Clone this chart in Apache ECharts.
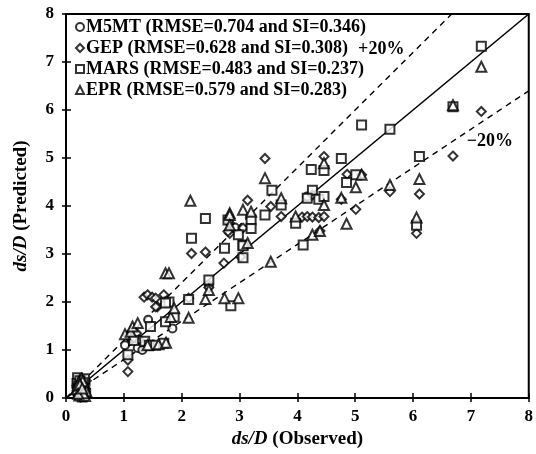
<!DOCTYPE html>
<html>
<head>
<meta charset="utf-8">
<script src="https://cdn.jsdelivr.net/npm/echarts@6/dist/echarts.min.js"></script>
<style>
  html, body { margin: 0; padding: 0; background: #fff; }
  #chart { width: 536px; height: 454px; }
</style>
</head>
<body>
<div id="chart"></div>
<script>
// Axis range and tick labels (same for both axes)
const axisMin = 0;
const axisMax = 8;
const axisStep = 1;

// Legend captions
const nameM5MT = 'M5MT (RMSE=0.704 and SI=0.346)';
const nameGEP = 'GEP (RMSE=0.628 and SI=0.308)';
const nameMARS = 'MARS (RMSE=0.483 and SI=0.237)';
const nameEPR = 'EPR (RMSE=0.579 and SI=0.283)';

// [observed, predicted] pairs for each model
const m5mt = [
  [0.2,0.12],[0.22,0.3],[0.25,0.2],[0.28,0.08],[0.3,0.35],[0.18,0.25],[0.32,0.15],[0.26,0.4],[0.2,0.05],[0.34,0.28],
  [0.23,0.17],[0.27,0.26],[0.31,0.06],[0.24,0.33],
  [1.12,1.25],[1.26,1.22],[1.24,1.04],[1.32,1.0],[1.42,1.63],[1.84,1.45],[1.02,1.1],[2.47,2.35],[4.17,4.2],[2.92,3.55]
];
const gep = [
  [0.18,0.1],[0.24,0.22],[0.27,0.32],[0.3,0.05],[0.21,0.38],[0.33,0.2],[0.22,0.15],[0.29,0.27],[0.25,0.02],[0.35,0.36],
  [0.2,0.3],[0.28,0.13],[0.32,0.31],[0.23,0.07],
  [1.07,1.3],[1.17,1.25],[1.22,1.35],[1.07,0.79],[1.07,0.55],
  [1.35,2.1],[1.41,2.15],[1.49,2.1],[1.58,1.9],[1.69,2.15],[1.55,2.08],[1.55,1.9],
  [2.17,3.01],[2.41,3.04],[2.73,2.81],[2.12,2.08],[2.47,2.3],[3.02,2.94],
  [3.44,4.99],[3.14,4.12],[3.54,3.99],[3.72,3.78],[4.46,5.03],[4.26,4.23],
  [4.08,3.77],[4.17,3.78],[4.26,3.77],[4.37,3.76],[4.46,3.78],[4.39,3.48],
  [3.06,3.54],[2.83,3.43],[2.80,3.47],[2.83,3.64],[4.86,4.66],[5.11,4.65],[5.60,4.3],[5.01,3.93],[4.76,4.14],
  [6.11,4.25],[6.06,3.43],[7.18,5.97],[6.69,5.04]
];
const mars = [
  [0.2,0.42],[0.23,0.1],[0.26,0.28],[0.3,0.18],[0.19,0.3],[0.32,0.4],[0.28,0.02],[0.24,0.36],[0.34,0.1],[0.21,0.2],
  [0.25,0.14],[0.29,0.32],[0.22,0.25],[0.31,0.08],
  [1.17,1.2],[1.36,1.18],[1.07,0.9],[1.44,1.1],[1.55,1.1],[1.69,1.14],[1.46,1.49],[1.72,1.59],[1.87,1.69],[1.78,2.0],[1.72,1.98],
  [2.17,3.33],[2.41,3.74],[2.74,3.12],[2.80,3.71],[2.47,2.46],[2.12,2.05],[2.85,1.92],[3.06,3.19],[3.06,2.92],
  [3.56,4.33],[3.20,3.71],[3.20,3.53],[3.44,3.81],[3.72,4.02],[4.24,4.76],[4.46,4.74],[4.26,4.33],[4.17,4.16],
  [4.37,4.14],[4.46,4.2],[3.97,3.64],[4.10,3.19],[2.98,3.4],[3.06,3.17],
  [5.11,5.69],[5.60,5.6],[4.76,4.99],[5.01,4.65],[4.85,4.49],[6.11,5.03],[6.06,3.6],[7.18,7.33],[6.69,6.07]
];
const epr = [
  [0.19,0.18],[0.23,0.05],[0.27,0.4],[0.31,0.25],[0.22,0.33],[0.35,0.14],[0.26,0.12],[0.29,0.35],[0.2,0.26],[0.33,0.04],
  [0.24,0.28],[0.3,0.1],[0.21,0.09],[0.28,0.2],
  [1.02,1.33],[1.12,1.38],[1.15,1.49],[1.24,1.56],[1.41,1.1],[1.60,1.12],[1.73,1.15],[1.81,1.69],[1.87,1.87],
  [1.72,2.6],[1.78,2.6],[2.15,4.11],[2.83,3.85],[2.41,2.06],[2.12,1.67],[2.74,2.08],[2.98,2.08],[2.47,2.25],
  [3.44,4.58],[3.06,3.92],[3.20,3.88],[3.72,4.16],[4.46,4.89],[4.46,4.02],[3.97,3.78],[4.26,3.4],[4.39,3.48],
  [3.54,2.84],[3.14,3.23],[2.83,3.81],[2.83,3.6],[5.11,4.65],[5.01,4.39],[5.60,4.44],[4.85,3.63],[4.76,4.17],
  [6.11,4.56],[6.06,3.76],[7.18,6.9],[6.69,6.1]
];

// Reference lines: perfect agreement and the ±20% band
const lineExact = [[0,0],[8,8]];
const linePlus20 = [[0,0],[8/1.2,8]];
const lineMinus20 = [[0,0],[8,6.4]];

// Band annotations, placed in data units: [x, y, text]
const bandLabels = [[5.45,7.27,'+20%'],[7.33,5.35,'\u221220%']];

const serif = '"Liberation Serif", "DejaVu Serif", serif';

function marker(name, data, symbol, size) {
  return {
    name, type: 'scatter', data, symbol, symbolSize: size, z: 5,
    itemStyle: { color: '#000', borderColor: '#000', borderWidth: 1.1 }
  };
}

function refLine(data, dashed) {
  return {
    type: 'line', data, symbol: 'none', silent: true, z: 3,
    lineStyle: { color: '#000', width: dashed ? 1.4 : 1.6, type: dashed ? [6, 5] : 'solid' }
  };
}

const mainAxis = (nameText, nameSize) => ({
  type: 'value', min: axisMin, max: axisMax, interval: axisStep,
  axisLine: { show: true, lineStyle: { color: '#000', width: 2 } },
  axisTick: { show: true, inside: true, length: 5, lineStyle: { color: '#000', width: 1.5 } },
  axisLabel: { color: '#000', fontFamily: serif, fontWeight: 'bold', fontSize: 17 },
  splitLine: { show: false },
  name: nameText,
  nameLocation: 'middle',
  nameTextStyle: {
    color: '#000', fontFamily: serif, fontWeight: 'bold', fontSize: nameSize,
    rich: {
      i: { fontFamily: serif, fontStyle: 'italic', fontWeight: 'bold', fontSize: nameSize, color: '#000' },
      n: { fontFamily: serif, fontWeight: 'bold', fontSize: nameSize, color: '#000' }
    }
  }
});

const outerTicks = (pos) => ({
  type: 'value', min: axisMin, max: axisMax, interval: axisStep, position: pos,
  axisLine: { show: false },
  axisTick: { show: true, inside: false, length: 4, lineStyle: { color: '#000', width: 1.5 } },
  axisLabel: { show: false },
  splitLine: { show: false }
});

const xMain = mainAxis('{i|ds/D} {n|(Observed)}', 19);
xMain.nameGap = 28;
xMain.axisLabel.margin = 10;
const yMain = mainAxis('{i|ds/D} {n|(Predicted)}', 19);
yMain.nameGap = 35;
yMain.axisLabel.margin = 12;

const chart = echarts.init(document.getElementById('chart'));
chart.setOption({
  animation: false,
  backgroundColor: '#fff',
  grid: { left: 66, right: 2, top: 14, bottom: 56, show: true, borderColor: '#000', borderWidth: 2 },
  xAxis: [Object.assign(xMain, { position: 'bottom' }), outerTicks('bottom')],
  yAxis: [Object.assign(yMain, { position: 'left' }), outerTicks('left')],
  legend: {
    orient: 'vertical', left: 70, top: 13, itemGap: 3,
    itemWidth: 8, itemHeight: 8,
    data: [nameM5MT, nameGEP, nameMARS, nameEPR],
    textStyle: { color: '#000', fontFamily: serif, fontWeight: 'bold', fontSize: 18, padding: [0, 0, 0, -3] }
  },
  series: [
    refLine(lineExact, false),
    refLine(linePlus20, true),
    refLine(lineMinus20, true),
    marker(nameM5MT, m5mt, 'emptyCircle', 8),
    marker(nameGEP, gep, 'emptyDiamond', 9),
    marker(nameMARS, mars, 'emptyRect', 9),
    marker(nameEPR, epr, 'emptyTriangle', 10)
  ]
});

// Band annotations: converted from data units to pixels through the grid
chart.setOption({
  graphic: bandLabels.map(d => {
    const p = chart.convertToPixel({ xAxisIndex: 0, yAxisIndex: 0 }, [d[0], d[1]]);
    return {
      type: 'text', x: p[0], y: p[1], z: 10,
      style: {
        text: d[2], fill: '#000', font: 'bold 18px ' + serif,
        align: 'center', verticalAlign: 'middle'
      }
    };
  })
});
</script>
</body>
</html>
